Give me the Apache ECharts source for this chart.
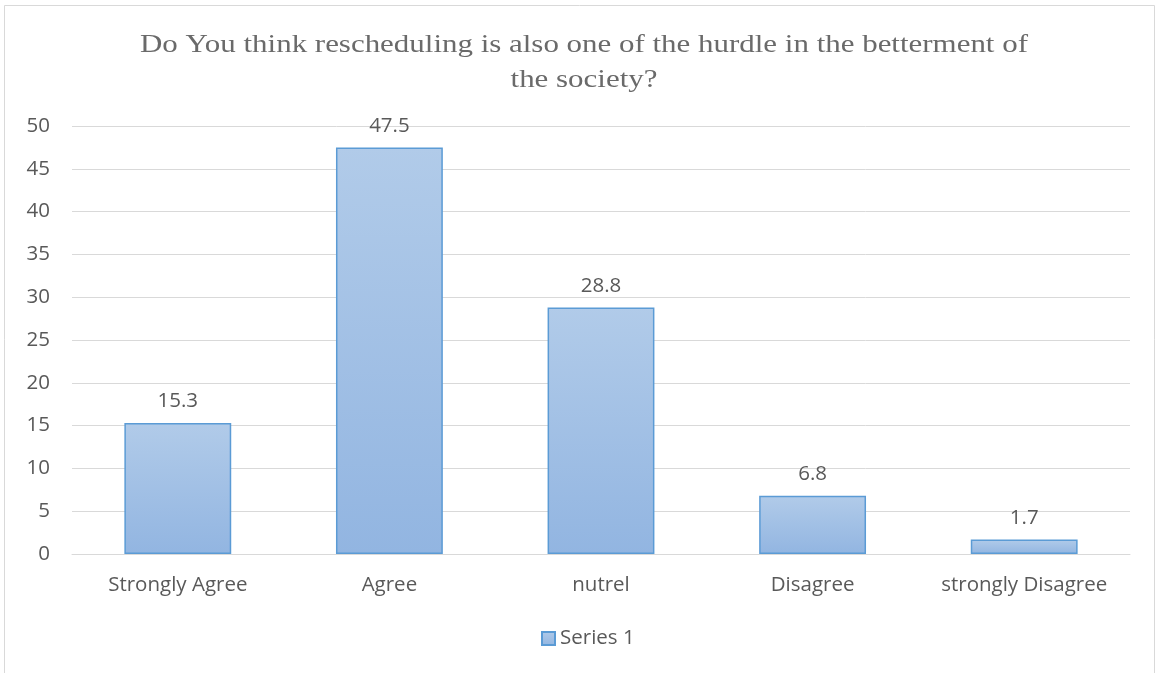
<!DOCTYPE html>
<html>
<head>
<meta charset="utf-8">
<style>
  html, body { margin: 0; padding: 0; background: #ffffff; }
  #chart { width: 1158px; height: 673px; }
</style>
<script src="https://cdn.jsdelivr.net/npm/echarts@6/dist/echarts.min.js"></script>
</head>
<body>
<div id="chart"></div>
<script>
// Survey responses (percent)
const categories = ['Strongly Agree', 'Agree', 'nutrel', 'Disagree', 'strongly Disagree'];
const values = [15.3, 47.5, 28.8, 6.8, 1.7];
const seriesName = 'Series 1';
const titleLines = ['Do You think rescheduling is also one of the hurdle in the betterment of', 'the society?'];

const labelFont = '"Open Sans", "Noto Sans", sans-serif';
const labelSize = 20.5;
const chart = echarts.init(document.getElementById('chart'), null, { renderer: 'canvas' });

const barFill = new echarts.graphic.LinearGradient(0, 0, 0, 1, [
  { offset: 0, color: '#b1cbe9' },
  { offset: 1, color: '#92b5e1' }
]);

// Title drawn as a centred, slightly widened serif text block
const titleGraphic = titleLines.map((line, i) => ({
  type: 'text',
  x: 584,
  y: 45 + i * 35.5,
  scaleX: 1.19,
  silent: true,
  style: {
    text: line,
    textAlign: 'center',
    textVerticalAlign: 'middle',
    font: '26px "Liberation Serif", "DejaVu Serif", serif',
    fill: '#6a6a6a'
  }
}));

chart.setOption({
  animation: false,
  backgroundColor: '#ffffff',
  graphic: [{
    type: 'rect',
    shape: { x: 4.5, y: 5.5, width: 1150, height: 700 },
    style: { fill: 'none', stroke: '#d9d9d9', lineWidth: 1 },
    silent: true
  }].concat(titleGraphic),
  legend: {
    bottom: 19,
    left: 536,
    itemWidth: 13,
    itemHeight: 13,
    itemGap: 6,
    icon: 'rect',
    textStyle: { fontFamily: labelFont, fontSize: labelSize, color: '#595959' },
    data: [seriesName]
  },
  grid: { left: 72, right: 28, top: 126, bottom: 119, containLabel: false },
  xAxis: {
    type: 'category',
    data: categories,
    axisLine: { show: true, lineStyle: { color: '#d9d9d9', width: 1 } },
    axisTick: { show: false },
    axisLabel: {
      margin: 21,
      fontFamily: labelFont,
      fontSize: labelSize,
      color: '#595959',
      interval: 0
    }
  },
  yAxis: {
    type: 'value',
    min: 0,
    max: 50,
    interval: 5,
    axisLine: { show: false },
    axisTick: { show: false },
    splitLine: { lineStyle: { color: '#d9d9d9', width: 1 } },
    axisLabel: {
      margin: 22,
      fontFamily: labelFont,
      fontSize: labelSize,
      color: '#595959'
    }
  },
  series: [{
    name: seriesName,
    type: 'bar',
    data: values,
    barWidth: '50.5%',
    itemStyle: { color: barFill, borderColor: '#5b9bd5', borderWidth: 1.5 },
    label: {
      show: true,
      position: 'top',
      distance: 11,
      fontFamily: labelFont,
      fontSize: labelSize,
      color: '#595959'
    }
  }]
});
</script>
</body>
</html>
